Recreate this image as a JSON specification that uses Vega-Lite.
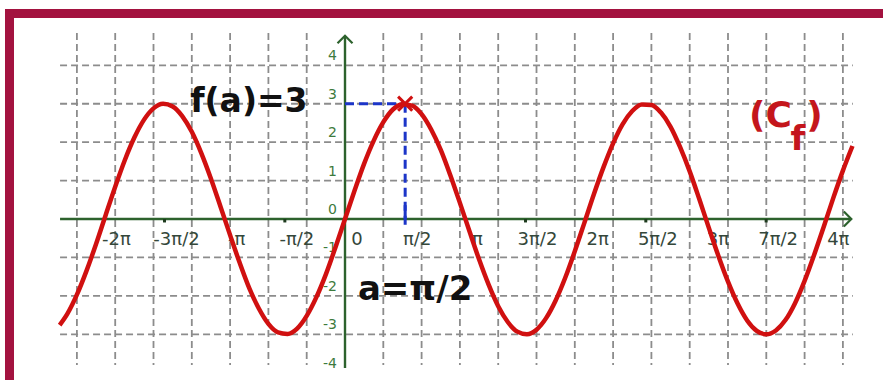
{
  "$schema": "https://vega.github.io/schema/vega-lite/v6.json",
  "width": 883,
  "height": 380,
  "autosize": {"type": "none"},
  "padding": 0,
  "background": "white",
  "config": {"view": {"stroke": null}, "text": {"font": "DejaVu Sans"}},
  "datasets": {
    "curve": [
      {"x": -7.45, "y": -2.76}, {"x": -7.25, "y": -2.47}, {"x": -7.0, "y": -1.97}, {"x": -6.75, "y": -1.35},
      {"x": -6.5, "y": -0.65}, {"x": -6.25, "y": 0.10}, {"x": -6.0, "y": 0.84}, {"x": -5.75, "y": 1.53},
      {"x": -5.5, "y": 2.12}, {"x": -5.25, "y": 2.58}, {"x": -5.0, "y": 2.88}, {"x": -4.75, "y": 3.0},
      {"x": -4.5, "y": 2.93}, {"x": -4.25, "y": 2.68}, {"x": -4.0, "y": 2.27}, {"x": -3.75, "y": 1.71},
      {"x": -3.5, "y": 1.05}, {"x": -3.25, "y": 0.32}, {"x": -3.0, "y": -0.42}, {"x": -2.75, "y": -1.14},
      {"x": -2.5, "y": -1.80}, {"x": -2.25, "y": -2.33}, {"x": -2.0, "y": -2.73}, {"x": -1.75, "y": -2.95},
      {"x": -1.5, "y": -2.99}, {"x": -1.25, "y": -2.85}, {"x": -1.0, "y": -2.52}, {"x": -0.75, "y": -2.04},
      {"x": -0.5, "y": -1.44}, {"x": -0.25, "y": -0.74}, {"x": 0.0, "y": 0.0}, {"x": 0.25, "y": 0.74},
      {"x": 0.5, "y": 1.44}, {"x": 0.75, "y": 2.04}, {"x": 1.0, "y": 2.52}, {"x": 1.25, "y": 2.85},
      {"x": 1.5, "y": 2.99}, {"x": 1.75, "y": 2.95}, {"x": 2.0, "y": 2.73}, {"x": 2.25, "y": 2.33},
      {"x": 2.5, "y": 1.80}, {"x": 2.75, "y": 1.14}, {"x": 3.0, "y": 0.42}, {"x": 3.25, "y": -0.32},
      {"x": 3.5, "y": -1.05}, {"x": 3.75, "y": -1.71}, {"x": 4.0, "y": -2.27}, {"x": 4.25, "y": -2.68},
      {"x": 4.5, "y": -2.93}, {"x": 4.75, "y": -3.0}, {"x": 5.0, "y": -2.88}, {"x": 5.25, "y": -2.58},
      {"x": 5.5, "y": -2.12}, {"x": 5.75, "y": -1.53}, {"x": 6.0, "y": -0.84}, {"x": 6.25, "y": -0.10},
      {"x": 6.5, "y": 0.65}, {"x": 6.75, "y": 1.35}, {"x": 7.0, "y": 1.97}, {"x": 7.25, "y": 2.47},
      {"x": 7.5, "y": 2.81}, {"x": 7.75, "y": 2.98}, {"x": 8.0, "y": 2.97}, {"x": 8.25, "y": 2.77},
      {"x": 8.5, "y": 2.40}, {"x": 8.75, "y": 1.87}, {"x": 9.0, "y": 1.24}, {"x": 9.25, "y": 0.52},
      {"x": 9.5, "y": -0.23}, {"x": 9.75, "y": -0.96}, {"x": 10.0, "y": -1.63}, {"x": 10.25, "y": -2.20},
      {"x": 10.5, "y": -2.64}, {"x": 10.75, "y": -2.91}, {"x": 11.0, "y": -3.0}, {"x": 11.25, "y": -2.90},
      {"x": 11.5, "y": -2.63}, {"x": 11.75, "y": -2.19}, {"x": 12.0, "y": -1.61}, {"x": 12.25, "y": -0.93},
      {"x": 12.5, "y": -0.20}, {"x": 12.75, "y": 0.55}, {"x": 13.0, "y": 1.26}, {"x": 13.25, "y": 1.90}
    ],
    "xticks": [
      {"value": -6.2832, "label": "-2π"}, {"value": -4.7124, "label": "-3π/2"}, {"value": -3.1416, "label": "-π"},
      {"value": -1.5708, "label": "-π/2"}, {"value": 0, "label": "0"}, {"value": 1.5708, "label": "π/2"},
      {"value": 3.1416, "label": "π"}, {"value": 4.7124, "label": "3π/2"}, {"value": 6.2832, "label": "2π"},
      {"value": 7.854, "label": "5π/2"}, {"value": 9.4248, "label": "3π"}, {"value": 10.9956, "label": "7π/2"},
      {"value": 12.5664, "label": "4π"}
    ],
    "yticks": [
      {"value": 4, "label": "4"}, {"value": 3, "label": "3"}, {"value": 2, "label": "2"}, {"value": 1, "label": "1"},
      {"value": 0, "label": "0"}, {"value": -1, "label": "-1"}, {"value": -2, "label": "-2"}, {"value": -3, "label": "-3"},
      {"value": -4, "label": "-4"}
    ],
    "grid": [
      {"x1": -7, "x2": -7, "y1": 4.84, "y2": -3.8}, {"x1": -6, "x2": -6, "y1": 4.84, "y2": -3.8},
      {"x1": -5, "x2": -5, "y1": 4.84, "y2": -3.8}, {"x1": -4, "x2": -4, "y1": 4.84, "y2": -3.8},
      {"x1": -3, "x2": -3, "y1": 4.84, "y2": -3.8}, {"x1": -2, "x2": -2, "y1": 4.84, "y2": -3.8},
      {"x1": -1, "x2": -1, "y1": 4.84, "y2": -3.8}, {"x1": 1, "x2": 1, "y1": 4.84, "y2": -3.8},
      {"x1": 2, "x2": 2, "y1": 4.84, "y2": -3.8}, {"x1": 3, "x2": 3, "y1": 4.84, "y2": -3.8},
      {"x1": 4, "x2": 4, "y1": 4.84, "y2": -3.8}, {"x1": 5, "x2": 5, "y1": 4.84, "y2": -3.8},
      {"x1": 6, "x2": 6, "y1": 4.84, "y2": -3.8}, {"x1": 7, "x2": 7, "y1": 4.84, "y2": -3.8},
      {"x1": 8, "x2": 8, "y1": 4.84, "y2": -3.8}, {"x1": 9, "x2": 9, "y1": 4.84, "y2": -3.8},
      {"x1": 10, "x2": 10, "y1": 4.84, "y2": -3.8}, {"x1": 11, "x2": 11, "y1": 4.84, "y2": -3.8},
      {"x1": 12, "x2": 12, "y1": 4.84, "y2": -3.8}, {"x1": 13, "x2": 13, "y1": 4.84, "y2": -3.8},
      {"x1": -7.44, "x2": 13.26, "y1": -3, "y2": -3}, {"x1": -7.44, "x2": 13.26, "y1": -2, "y2": -2},
      {"x1": -7.44, "x2": 13.26, "y1": -1, "y2": -1}, {"x1": -7.44, "x2": 13.26, "y1": 1, "y2": 1},
      {"x1": -7.44, "x2": 13.26, "y1": 2, "y2": 2}, {"x1": -7.44, "x2": 13.26, "y1": 3, "y2": 3},
      {"x1": -7.44, "x2": 13.26, "y1": 4, "y2": 4}
    ],
    "axes": [
      {"x1": -7.44, "x2": 13.2, "y1": 0, "y2": 0},
      {"x1": 0, "x2": 0, "y1": -3.88, "y2": 4.75}
    ],
    "axticks": [
      {"x1": -4.7124, "x2": -4.7124, "y1": 0, "y2": -0.09},
      {"x1": -1.5708, "x2": -1.5708, "y1": 0, "y2": -0.09},
      {"x1": 4.7124, "x2": 4.7124, "y1": 0, "y2": -0.09},
      {"x1": 7.854, "x2": 7.854, "y1": 0, "y2": -0.09},
      {"x1": 10.9956, "x2": 10.9956, "y1": 0, "y2": -0.09}
    ],
    "arrows": [
      {"x": 13.22, "y": 0, "dir": "right"},
      {"x": 0, "y": 4.77, "dir": "up"}
    ],
    "guides": [
      {"x1": 0, "x2": 1.5708, "y1": 3, "y2": 3},
      {"x1": 1.5708, "x2": 1.5708, "y1": 3, "y2": 0}
    ],
    "atick": [{"x1": 1.5708, "x2": 1.5708, "y1": 0.36, "y2": -0.15}],
    "frame": [
      {"x1": -8.877, "x2": 14.047, "y1": 5.35, "y2": 5.35},
      {"x1": -8.76, "x2": -8.76, "y1": 5.467, "y2": -4.19}
    ],
    "point": [{"a": 1.5708, "fa": 3}]
  },
  "layer": [
    {
      "data": {"name": "frame"},
      "mark": {"type": "rule", "stroke": "#a3123f", "strokeWidth": 9},
      "encoding": {
        "x": {"field": "x1", "type": "quantitative", "scale": {"domain": [-9.008, 14.047], "nice": false, "zero": false}, "axis": null},
        "x2": {"field": "x2"},
        "y": {"field": "y1", "type": "quantitative", "scale": {"domain": [-4.19, 5.70], "nice": false, "zero": false}, "axis": null},
        "y2": {"field": "y2"}
      }
    },
    {
      "data": {"name": "grid"},
      "mark": {"type": "rule", "stroke": "#8c8c8c", "strokeWidth": 1.8, "strokeDash": [7, 4]},
      "encoding": {
        "x": {"field": "x1", "type": "quantitative", "axis": null},
        "x2": {"field": "x2"},
        "y": {"field": "y1", "type": "quantitative", "axis": null},
        "y2": {"field": "y2"}
      }
    },
    {
      "data": {"name": "axes"},
      "mark": {"type": "rule", "stroke": "#2d622d", "strokeWidth": 2.4},
      "encoding": {
        "x": {"field": "x1", "type": "quantitative", "axis": null},
        "x2": {"field": "x2"},
        "y": {"field": "y1", "type": "quantitative", "axis": null},
        "y2": {"field": "y2"}
      }
    },
    {
      "data": {"name": "axticks"},
      "mark": {"type": "rule", "stroke": "#1e3a1e", "strokeWidth": 3},
      "encoding": {
        "x": {"field": "x1", "type": "quantitative", "axis": null},
        "x2": {"field": "x2"},
        "y": {"field": "y1", "type": "quantitative", "axis": null},
        "y2": {"field": "y2"}
      }
    },
    {
      "data": {"name": "arrows"},
      "mark": {"type": "point", "filled": false, "stroke": "#2d622d", "strokeWidth": 2.2, "size": 225, "opacity": 1},
      "encoding": {
        "x": {"field": "x", "type": "quantitative", "axis": null},
        "y": {"field": "y", "type": "quantitative", "axis": null},
        "shape": {"field": "dir", "type": "nominal", "legend": null, "scale": {"domain": ["right", "up"], "range": ["M -1 -1 L 0 0 L -1 1", "M -1 1 L 0 0 L 1 1"]}}
      }
    },
    {
      "data": {"name": "guides"},
      "mark": {"type": "rule", "stroke": "#1c35c8", "strokeWidth": 3, "strokeDash": [9, 5]},
      "encoding": {
        "x": {"field": "x1", "type": "quantitative", "axis": null},
        "x2": {"field": "x2"},
        "y": {"field": "y1", "type": "quantitative", "axis": null},
        "y2": {"field": "y2"}
      }
    },
    {
      "data": {"name": "atick"},
      "mark": {"type": "rule", "stroke": "#1c35c8", "strokeWidth": 3},
      "encoding": {
        "x": {"field": "x1", "type": "quantitative", "axis": null},
        "x2": {"field": "x2"},
        "y": {"field": "y1", "type": "quantitative", "axis": null},
        "y2": {"field": "y2"}
      }
    },
    {
      "data": {"name": "xticks"},
      "mark": {"type": "text", "fontSize": 18, "color": "#34473a", "align": "center", "baseline": "middle", "dx": 12},
      "encoding": {
        "x": {"field": "value", "type": "quantitative", "axis": null},
        "y": {"datum": -0.55, "type": "quantitative", "axis": null},
        "text": {"field": "label"}
      }
    },
    {
      "data": {"name": "yticks"},
      "mark": {"type": "text", "fontSize": 14, "color": "#3d7a3d", "align": "right", "baseline": "alphabetic", "dx": -8, "dy": -5},
      "encoding": {
        "x": {"datum": 0, "type": "quantitative", "axis": null},
        "y": {"field": "value", "type": "quantitative", "axis": null},
        "text": {"field": "label"}
      }
    },
    {
      "data": {"name": "curve"},
      "mark": {"type": "line", "color": "#d01010", "strokeWidth": 4.5, "interpolate": "monotone"},
      "encoding": {
        "x": {"field": "x", "type": "quantitative", "axis": null},
        "y": {"field": "y", "type": "quantitative", "axis": null}
      }
    },
    {
      "data": {"name": "point"},
      "mark": {"type": "point", "shape": "M -1 -1 L 1 1 M -1 1 L 1 -1", "filled": false, "stroke": "#d01010", "strokeWidth": 3, "size": 200, "opacity": 1},
      "encoding": {
        "x": {"field": "a", "type": "quantitative", "axis": null},
        "y": {"field": "fa", "type": "quantitative", "axis": null}
      }
    },
    {
      "data": {"values": [{"x": -2.51, "y": 2.79, "t": "f(a)=3"}]},
      "mark": {"type": "text", "fontSize": 33, "fontWeight": "bold", "color": "#111111", "align": "center", "baseline": "alphabetic"},
      "encoding": {
        "x": {"field": "x", "type": "quantitative", "axis": null},
        "y": {"field": "y", "type": "quantitative", "axis": null},
        "text": {"field": "t"}
      }
    },
    {
      "data": {"values": [{"x": 1.83, "y": -2.11, "t": "a=π/2"}]},
      "mark": {"type": "text", "fontSize": 34, "fontWeight": "bold", "color": "#111111", "align": "center", "baseline": "alphabetic"},
      "encoding": {
        "x": {"field": "x", "type": "quantitative", "axis": null},
        "y": {"field": "y", "type": "quantitative", "axis": null},
        "text": {"field": "t"}
      }
    },
    {
      "data": {"values": [{"x": 11.67, "y": 2.40, "t": "(C"}]},
      "mark": {"type": "text", "fontSize": 36, "fontWeight": "bold", "color": "#c4161c", "align": "right", "baseline": "alphabetic"},
      "encoding": {
        "x": {"field": "x", "type": "quantitative", "axis": null},
        "y": {"field": "y", "type": "quantitative", "axis": null},
        "text": {"field": "t"}
      }
    },
    {
      "data": {"values": [{"x": 11.63, "y": 1.80, "t": "f"}]},
      "mark": {"type": "text", "fontSize": 34, "fontWeight": "bold", "color": "#c4161c", "align": "left", "baseline": "alphabetic"},
      "encoding": {
        "x": {"field": "x", "type": "quantitative", "axis": null},
        "y": {"field": "y", "type": "quantitative", "axis": null},
        "text": {"field": "t"}
      }
    },
    {
      "data": {"values": [{"x": 12.04, "y": 2.40, "t": ")"}]},
      "mark": {"type": "text", "fontSize": 36, "fontWeight": "bold", "color": "#c4161c", "align": "left", "baseline": "alphabetic"},
      "encoding": {
        "x": {"field": "x", "type": "quantitative", "axis": null},
        "y": {"field": "y", "type": "quantitative", "axis": null},
        "text": {"field": "t"}
      }
    }
  ]
}
